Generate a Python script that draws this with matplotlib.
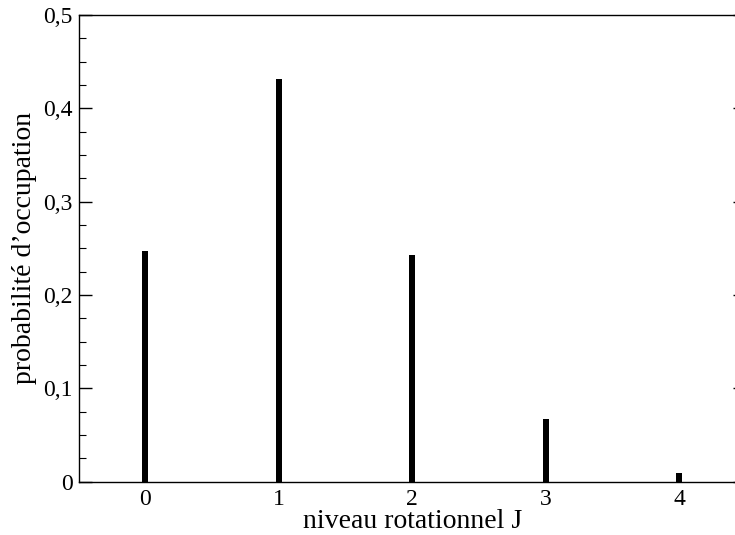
import matplotlib
matplotlib.use("Agg")
import matplotlib.pyplot as plt
from matplotlib.ticker import MultipleLocator, FuncFormatter

J = [0, 1, 2, 3, 4]
prob = [0.2475, 0.4316, 0.243, 0.0667, 0.0094]
xticklabels = ["0", "1", "2", "3", "4"]

plt.rcParams['font.family'] = ['Liberation Serif', 'DejaVu Serif']

fig = plt.figure(figsize=(7.35, 5.35), dpi=100)
ax = fig.add_axes([78.7/735, 53.5/535, 667/735, 466.5/535])
ax.bar(J, prob, width=0.045, color='black')
ax.set_xlim(-0.5, 4.5)
ax.set_ylim(0, 0.5)
ax.set_xticks(J)
ax.set_xticklabels(xticklabels)
ax.tick_params(axis='x', length=0, labelsize=17, pad=5.5)
ax.yaxis.set_major_locator(MultipleLocator(0.1))
ax.yaxis.set_minor_locator(MultipleLocator(0.025))
ax.yaxis.set_major_formatter(FuncFormatter(lambda v, p: "0" if abs(v) < 1e-9 else f"{v:.1f}".replace('.', ',')))
ax.tick_params(axis='y', which='major', direction='in', length=9.5, width=1, labelsize=17, right=True, pad=4.5)
ax.tick_params(axis='y', which='minor', direction='in', length=5, width=0.8, right=True)
for s in ax.spines.values():
    s.set_linewidth(1.0)
ax.set_xlabel("niveau rotationnel J", fontsize=20, labelpad=-1)
ax.set_ylabel("probabilité d’occupation", fontsize=20, labelpad=4)
fig.savefig("out.png", dpi=100)
